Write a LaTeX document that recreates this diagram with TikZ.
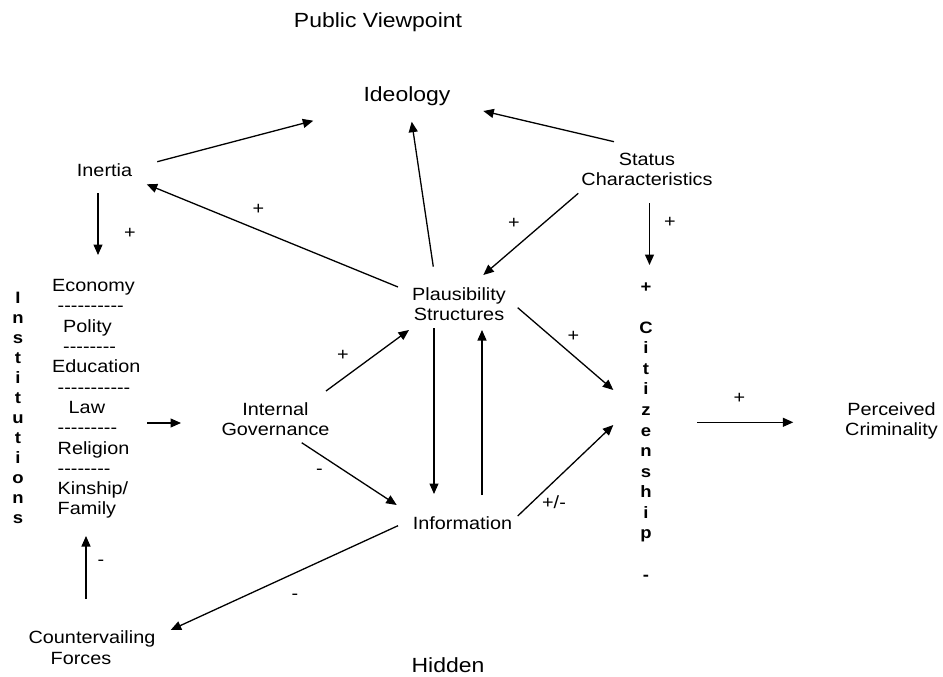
\documentclass[tikz,border=0pt]{standalone}
\usepackage{fontspec}
\setmainfont{Liberation Sans}[FakeStretch=1.12]
\usetikzlibrary{arrows.meta}
\newcommand\hy{\mbox{-}}
\newcommand\lsp[1]{\hspace*{#1\fontdimen2\font}}
\begin{document}
\begin{tikzpicture}[x=1pt,y=-1pt,
  lab/.style={font=\fontsize{17.7}{20.5}\selectfont, inner sep=0pt, align=center, anchor=north},
  big/.style={lab, font=\fontsize{20.5}{24}\selectfont},
  col/.style={inner sep=0pt, align=center, anchor=north, font=\fontsize{16.5}{20}\selectfont\bfseries},
  sign/.style={inner sep=0pt, font=\fontsize{17.7}{20.5}\selectfont},
  arr/.style={line width=1.3pt, -{Triangle[length=10.5pt,width=9pt]}}]
\fill[white] (0,0) rectangle (943,677);
\useasboundingbox (0,0) rectangle (943,677);
% text nodes
\node[big] (pv) at (378,12.6) {Public Viewpoint};
\node[big] (ideo) at (407,86) {Ideology};
\node[big] (hid) at (448,657.3) {Hidden};
\node[lab] (inertia) at (104.5,163.3) {Inertia};
\node[lab] (status) at (647,152.6) {Status\\Characteristics};
\node[lab] (plaus) at (459,287.3) {Plausibility\\Structures};
\node[lab] (ig) at (275.5,402.3) {Internal\\Governance};
\node[lab] (info) at (462.5,516.3) {Information};
\node[lab] (pc) at (891.5,402.3) {Perceived\\Criminality};
\node[lab] (cf) at (92,630.6) {Countervailing\\Forces\hspace*{22pt}};
\node[lab, align=left, anchor=north west, font=\fontsize{17.7}{20.3}\selectfont] (inst) at (52,279.3)
  {Economy\\
   \lsp1\hy\hy\hy\hy\hy\hy\hy\hy\hy\hy\\
   \lsp2Polity\\
   \lsp2\hy\hy\hy\hy\hy\hy\hy\hy\\
   Education\\
   \lsp1\hy\hy\hy\hy\hy\hy\hy\hy\hy\hy\hy\\
   \lsp3Law\\
   \lsp1\hy\hy\hy\hy\hy\hy\hy\hy\hy\\
   \lsp1Religion\\
   \lsp1\hy\hy\hy\hy\hy\hy\hy\hy\\
   \lsp1Kinship/\\
   \lsp1Family};
\node[col] (instcol) at (18,291.5) {I\\n\\s\\t\\i\\t\\u\\t\\i\\o\\n\\s};
\node[col, font=\fontsize{16.5}{20.57}\selectfont\bfseries] (cit) at (646,280.3)
  {\vphantom{C}+\\ \mbox{}\\ C\\ i\\ t\\ i\\ z\\ e\\ n\\ s\\ h\\ i\\ p\\ \mbox{}\\ -};
% sign labels
\node[sign] (s1) at (130,233) {+};
\node[sign] (s2) at (258.3,209.3) {+};
\node[sign] (s3) at (514,223) {+};
\node[sign] (s4) at (670,222.7) {+};
\node[sign] (s5) at (343,355) {+};
\node[sign] (s6) at (573.3,336.7) {+};
\node[sign] (s7) at (319.3,471.7) {-};
\node[sign] (s8) at (554,502) {+/-};
\node[sign] (s9) at (295,597) {-};
\node[sign] (s10) at (101,563) {-};
\node[sign] (s11) at (739.3,398.3) {+};
% connectors
\draw[arr] ([shift={(52.8,-1.6)}]inertia.north) -- ([shift={(-93.7,34.7)}]ideo.north);
\draw[arr] ([shift={(-33,-10.9)}]status.north) -- ([shift={(76.3,25)}]ideo.north);
\draw[arr] ([shift={(-25.7,-20.6)}]plaus.north) -- ([shift={(4.7,35.7)}]ideo.north);
\draw[arr] ([shift={(-61,-0.3)}]plaus.north) -- ([shift={(42.2,21)}]inertia.north);
\draw[arr] ([shift={(-68.7,40.7)}]status.north) -- ([shift={(24.3,-12.3)}]plaus.north);
\draw[arr] ([shift={(2.5,50.4)}]status.north) -- ([shift={(3.5,-15.3)}]cit.north);
\draw[arr] ([shift={(-6.5,29.7)}]inertia.north) -- ([shift={(46,-24.3)}]inst.north west);
\draw[arr] ([shift={(95,143.7)}]inst.north west) -- ([shift={(-94.5,20.7)}]ig.north);
\draw[arr] ([shift={(50.5,-11.3)}]ig.north) -- ([shift={(-50,42.7)}]plaus.north);
\draw[arr] ([shift={(26.2,40.4)}]ig.north) -- ([shift={(-65.8,-11.3)}]info.north);
\draw[arr] ([shift={(-25,40.7)}]plaus.north) -- ([shift={(-28.5,-22.3)}]info.north);
\draw[arr] ([shift={(19.5,-21.3)}]info.north) -- ([shift={(23,42.7)}]plaus.north);
\draw[arr] ([shift={(58.7,20.4)}]plaus.north) -- ([shift={(-32.7,109.7)}]cit.north);
\draw[arr] ([shift={(55.2,-0.3)}]info.north) -- ([shift={(-32.7,144.7)}]cit.north);
\draw[arr] ([shift={(-64.5,9.4)}]info.north) -- ([shift={(78.7,-0.6)}]cf.north);
\draw[arr] ([shift={(-6,-31.6)}]cf.north) -- ([shift={(34,256.7)}]inst.north west);
\draw[arr] ([shift={(51.3,142)}]cit.north) -- ([shift={(-98.2,20)}]pc.north);
\end{tikzpicture}
\end{document}
